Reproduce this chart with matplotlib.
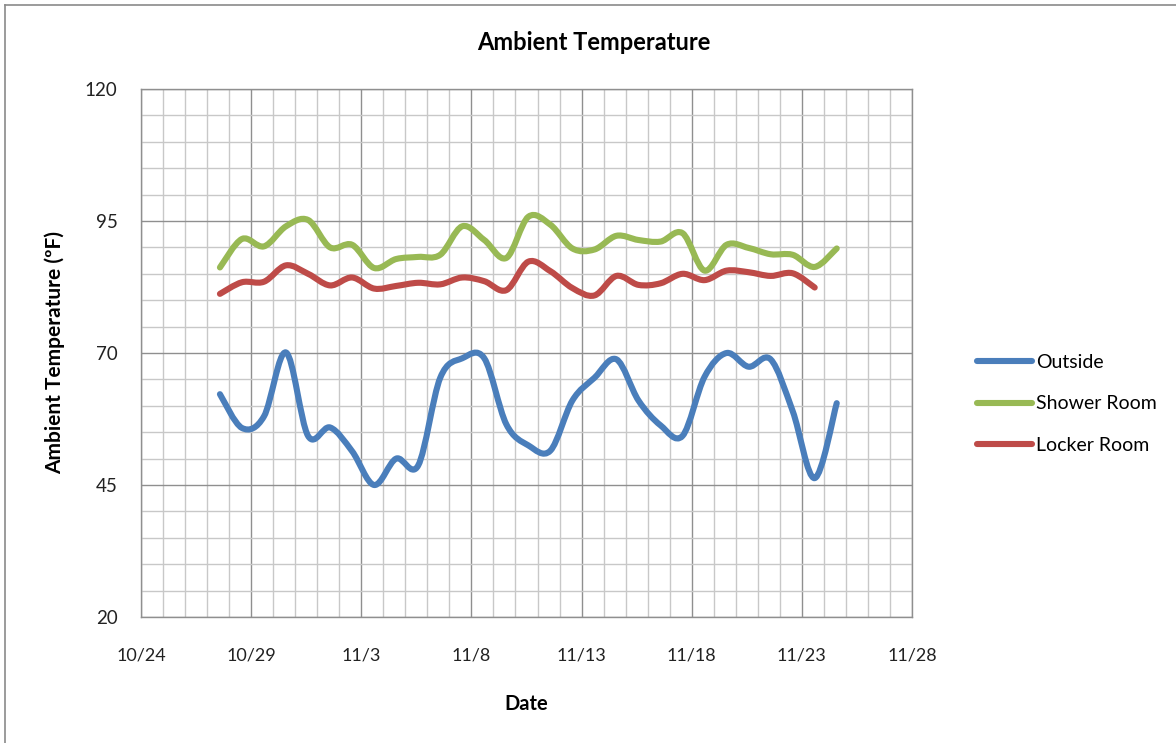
import numpy as np
import pandas as pd
import matplotlib
matplotlib.use("Agg")
import matplotlib.pyplot as plt
import matplotlib.dates as mdates
from matplotlib.path import Path
from matplotlib.patches import PathPatch
from matplotlib.lines import Line2D
from matplotlib.ticker import MultipleLocator, FixedLocator, FuncFormatter

plt.rcParams["font.family"] = ["Lato", "DejaVu Sans"]

# readings, one per day
dates = pd.date_range("2013-10-27 14:00", periods=29, freq="D")
outside = [62.2, 55.8, 58.0, 70.1, 54.3, 55.9, 51.4, 45.0, 50.0, 48.7,
           65.3, 69.0, 69.0, 56.5, 52.5, 51.5, 61.0, 65.3, 68.8, 61.0,
           56.3, 54.3, 65.5, 70.0, 67.4, 68.8, 59.0, 46.3, 60.5]
shower = [86.2, 91.6, 90.2, 94.0, 95.2, 90.0, 90.5, 86.1, 87.8, 88.2,
          88.6, 94.0, 91.4, 88.0, 95.8, 94.3, 89.8, 89.6, 92.2, 91.4,
          91.1, 92.7, 85.6, 90.5, 89.9, 88.7, 88.6, 86.3, 89.8]
locker = [81.2, 83.4, 83.5, 86.6, 85.0, 82.8, 84.3, 82.2, 82.7, 83.3,
          83.0, 84.3, 83.6, 81.9, 87.3, 85.5, 82.3, 80.9, 84.6, 82.9,
          83.2, 85.0, 83.8, 85.6, 85.3, 84.6, 85.1, 82.4]

series = [("Outside", outside, "#4A7EBB"),
          ("Shower Room", shower, "#98B954"),
          ("Locker Room", locker, "#BE4B48")]

y_ticks = [20, 45, 70, 95, 120]
x_ticks = pd.date_range("2013-10-24", "2013-11-28", freq="5D")
x_minor = pd.date_range("2013-10-24", "2013-11-28", freq="D")


def smooth_path(x, y):
    # catmull-rom style bezier, like excel's smoothed line
    x = np.asarray(x, float)
    y = np.asarray(y, float)
    px = np.concatenate([[x[0]], x, [x[-1]]])
    py = np.concatenate([[y[0]], y, [y[-1]]])
    verts = [(x[0], y[0])]
    codes = [Path.MOVETO]
    for i in range(len(x) - 1):
        c1 = (px[i + 1] + (px[i + 2] - px[i]) / 6, py[i + 1] + (py[i + 2] - py[i]) / 6)
        c2 = (px[i + 2] - (px[i + 3] - px[i + 1]) / 6, py[i + 2] - (py[i + 3] - py[i + 1]) / 6)
        verts += [c1, c2, (x[i + 1], y[i + 1])]
        codes += [Path.CURVE4] * 3
    return Path(verts, codes)


fig = plt.figure(figsize=(11.76, 7.43), dpi=100)
ax = fig.add_axes([141 / 1176, 1 - 617 / 743, (912 - 141) / 1176, (617 - 89) / 743])

handles = []
for name, vals, col in series:
    xs = mdates.date2num(dates[:len(vals)])
    patch = PathPatch(smooth_path(xs, vals), facecolor="none", edgecolor=col,
                      lw=4.4, capstyle="round", joinstyle="round", zorder=3)
    ax.add_patch(patch)
    handles.append(Line2D([], [], color=col, lw=4.4, solid_capstyle="round", label=name))

ax.set_xlim(mdates.date2num(x_ticks[0]), mdates.date2num(x_ticks[-1]))
ax.set_ylim(20, 120)
ax.xaxis.set_major_locator(FixedLocator(mdates.date2num(x_ticks)))
ax.xaxis.set_minor_locator(FixedLocator(mdates.date2num(x_minor)))
ax.xaxis.set_major_formatter(FuncFormatter(
    lambda v, p: f"{mdates.num2date(v).month}/{mdates.num2date(v).day}"))
ax.yaxis.set_major_locator(FixedLocator(y_ticks))
ax.yaxis.set_minor_locator(MultipleLocator(5))

ax.grid(which="major", color="#8f8f8f", lw=1.0, zorder=1)
ax.grid(which="minor", color="#c8c8c8", lw=1.0, zorder=0)
ax.set_axisbelow(True)
for s in ax.spines.values():
    s.set_color("#8f8f8f")
    s.set_linewidth(1.0)
ax.tick_params(which="both", length=0)
ax.tick_params(axis="x", labelsize=13, pad=22, colors="#222222")
ax.tick_params(axis="y", labelsize=13.5, pad=17, colors="#222222")

fig.text(594 / 1176, 1 - 42 / 743, "Ambient Temperature", fontsize=17,
         fontweight="bold", ha="center", va="center")
ax.set_xlabel("Date", fontsize=14.5, fontweight="bold", labelpad=22)
ax.set_ylabel("Ambient Temperature (ºF)", fontsize=15, fontweight="bold", labelpad=14)

fig.legend(handles=handles, loc="upper left", bbox_to_anchor=(977 / 1176, 1 - 354 / 743),
           frameon=False, fontsize=14, handlelength=2.85, handletextpad=0.2,
           labelspacing=1.25, borderpad=0, borderaxespad=0)

# outer chart border (clipped at right/bottom in the reference)
fig.add_artist(Line2D([5 / 1176, 5 / 1176], [0, 1 - 5 / 743], color="#8a8a8a", lw=1.2))
fig.add_artist(Line2D([5 / 1176, 1], [1 - 5 / 743, 1 - 5 / 743], color="#8a8a8a", lw=1.2))

fig.savefig("out.png", dpi=100)
